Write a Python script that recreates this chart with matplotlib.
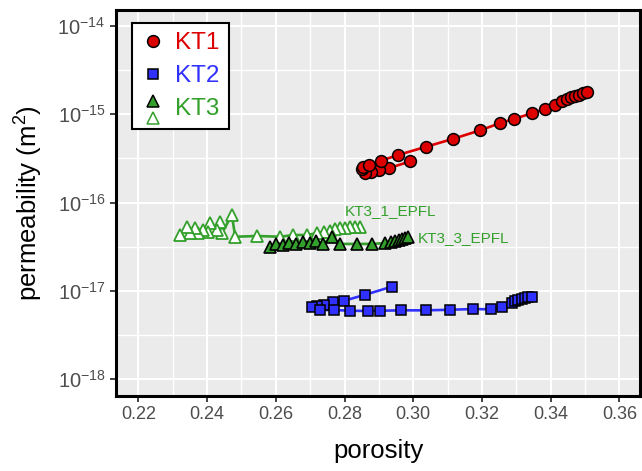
import matplotlib
matplotlib.use("Agg")
import matplotlib.pyplot as plt
from matplotlib.lines import Line2D
from matplotlib.legend_handler import HandlerBase
from matplotlib.ticker import FixedLocator, NullFormatter

plt.rcParams["font.family"] = ["Liberation Sans", "DejaVu Sans"]
plt.rcParams["mathtext.default"] = "regular"

# Data
kt1_porosity = [0.2991, 0.2928, 0.2899, 0.2877, 0.2860, 0.2850, 0.2855, 0.2870, 0.2906,
                0.2955, 0.3038, 0.3117, 0.3195, 0.3251, 0.3292, 0.3345, 0.3384, 0.3413,
                0.3434, 0.3447, 0.3459, 0.3470, 0.3482, 0.3494, 0.3505]
kt1_perm = [2.92e-16, 2.44e-16, 2.31e-16, 2.21e-16, 2.17e-16, 2.37e-16, 2.51e-16, 2.65e-16,
            2.97e-16, 3.44e-16, 4.28e-16, 5.27e-16, 6.56e-16, 7.87e-16, 8.81e-16, 1.02e-15,
            1.15e-15, 1.27e-15, 1.41e-15, 1.48e-15, 1.55e-15, 1.60e-15, 1.66e-15, 1.72e-15,
            1.77e-15]

kt2_porosity = [0.2939, 0.2860, 0.2799, 0.2765, 0.2741, 0.2719, 0.2705, 0.2729, 0.2770,
                0.2816, 0.2867, 0.2904, 0.2964, 0.3037, 0.3107, 0.3175, 0.3226, 0.3258,
                0.3287, 0.3297, 0.3306, 0.3316, 0.3326, 0.3335, 0.3345]
kt2_perm = [1.12e-17, 9.06e-18, 7.74e-18, 7.43e-18, 6.98e-18, 6.75e-18, 6.52e-18, 6.08e-18,
            6.08e-18, 5.97e-18, 5.93e-18, 5.97e-18, 6.03e-18, 6.03e-18, 6.12e-18, 6.24e-18,
            6.19e-18, 6.52e-18, 7.36e-18, 7.74e-18, 7.94e-18, 8.17e-18, 8.32e-18, 8.47e-18,
            8.59e-18]

kt3_1_porosity = [0.2845, 0.2831, 0.2816, 0.2802, 0.2787, 0.2773, 0.2758, 0.2739, 0.2719,
                  0.2690, 0.2651, 0.2613, 0.2545, 0.2482, 0.2472, 0.2443, 0.2438, 0.2428,
                  0.2409, 0.2404, 0.2389, 0.2375, 0.2365, 0.2351, 0.2341, 0.2321]
kt3_1_perm = [5.32e-17, 5.32e-17, 5.24e-17, 5.14e-17, 5.11e-17, 4.98e-17, 4.80e-17, 4.68e-17,
              4.49e-17, 4.29e-17, 4.29e-17, 4.10e-17, 4.18e-17, 4.10e-17, 7.23e-17, 4.49e-17,
              6.07e-17, 4.89e-17, 5.82e-17, 4.68e-17, 4.89e-17, 4.49e-17, 5.11e-17, 4.49e-17,
              5.32e-17, 4.29e-17]

kt3_3_porosity = [0.2583, 0.2601, 0.2621, 0.2638, 0.2659, 0.2679, 0.2700, 0.2717, 0.2737,
                  0.2763, 0.2787, 0.2836, 0.2880, 0.2918, 0.2936, 0.2947, 0.2959, 0.2968,
                  0.2976, 0.2985]
kt3_3_perm = [3.14e-17, 3.40e-17, 3.31e-17, 3.48e-17, 3.40e-17, 3.58e-17, 3.48e-17, 3.67e-17,
              3.40e-17, 4.07e-17, 3.40e-17, 3.40e-17, 3.40e-17, 3.48e-17, 3.58e-17, 3.67e-17,
              3.77e-17, 3.86e-17, 3.97e-17, 4.07e-17]

x_ticks = [0.22, 0.24, 0.26, 0.28, 0.30, 0.32, 0.34, 0.36]
y_ticks = [1e-18, 1e-17, 1e-16, 1e-15, 1e-14]
y_tick_labels = [r"$10^{-18}$", r"$10^{-17}$", r"$10^{-16}$", r"$10^{-15}$", r"$10^{-14}$"]

red = "#dc0000"
blue = "#3030ff"
green = "#33a02c"


class StackedTriangles(HandlerBase):
    # filled triangle on top of an open one, like the KT3 legend key
    def create_artists(self, legend, orig_handle, xdescent, ydescent, width, height,
                       fontsize, trans):
        cx = width / 2 - xdescent
        top = Line2D([cx], [height * 0.85 - ydescent], marker="^", ms=8.5, ls="",
                     mfc=green, mec="black", mew=1.1)
        bottom = Line2D([cx], [height * -0.15 - ydescent], marker="^", ms=8.5, ls="",
                        mfc="white", mec=green, mew=1.1)
        top.set_transform(trans)
        bottom.set_transform(trans)
        return [top, bottom]


fig = plt.figure(figsize=(6.42, 4.71), dpi=100)
ax = fig.add_axes([0.1807, 0.1592, 0.8163, 0.8196])
ax.set_facecolor("#ebebeb")

ax.plot(kt1_porosity, kt1_perm, color=red, lw=1.9, marker="o", ms=8.5,
        mfc=red, mec="black", mew=1.1, zorder=4)
ax.plot(kt2_porosity, kt2_perm, color=blue, lw=1.9, marker="s", ms=7.3,
        mfc=blue, mec="black", mew=1.1, zorder=4)
ax.plot(kt3_1_porosity, kt3_1_perm, color=green, lw=1.9, marker="^", ms=9,
        mfc="white", mec=green, mew=1.3, zorder=3)
ax.plot(kt3_3_porosity, kt3_3_perm, color=green, lw=1.9, marker="^", ms=9,
        mfc=green, mec="black", mew=1.2, zorder=4)

ax.text(0.2802, 8.0e-17, "KT3_1_EPFL", color=green, fontsize=11, va="center", ha="left")
ax.text(0.3014, 3.94e-17, "KT3_3_EPFL", color=green, fontsize=11, va="center", ha="left")

ax.set_yscale("log")
ax.set_xlim(0.2135, 0.366)
ax.set_ylim(10 ** -18.189, 10 ** -13.822)

ax.xaxis.set_major_locator(FixedLocator(x_ticks))
ax.set_xticklabels([f"{t:.2f}" for t in x_ticks])
ax.xaxis.set_minor_locator(FixedLocator([0.23, 0.25, 0.27, 0.29, 0.31, 0.33, 0.35]))
ax.yaxis.set_major_locator(FixedLocator(y_ticks))
ax.set_yticklabels(y_tick_labels)
ax.yaxis.set_minor_locator(FixedLocator([10 ** -17.5, 10 ** -16.5, 10 ** -15.5, 10 ** -14.5]))
ax.yaxis.set_minor_formatter(NullFormatter())

ax.grid(which="major", color="white", lw=1.5)
ax.grid(which="minor", color="white", lw=1.0)
ax.set_axisbelow(True)
ax.tick_params(which="major", direction="out", length=4.5, width=1.3, color="#333333",
               labelcolor="#4d4d4d", labelsize=13, pad=3)
ax.tick_params(axis="y", which="major", labelsize=14.5)
ax.tick_params(which="minor", length=0)
for s in ax.spines.values():
    s.set_linewidth(2.2)
    s.set_color("black")

ax.set_xlabel("porosity", fontsize=18.5, labelpad=11)
ax.set_ylabel(r"permeability (m$^2$)", fontsize=18.5, labelpad=9)

handles = [
    Line2D([], [], ls="", marker="o", ms=8.5, mfc=red, mec="black", mew=1.1),
    Line2D([], [], ls="", marker="s", ms=7.3, mfc=blue, mec="black", mew=1.1),
    Line2D([], [], ls="", marker="^"),
]
leg = ax.legend(handles, ["KT1", "KT2", "KT3"], loc="upper left",
                bbox_to_anchor=(0.0305, 0.966), borderaxespad=0, fontsize=17.5,
                fancybox=False, framealpha=1, edgecolor="black", handlelength=1.0,
                handletextpad=0.4, labelspacing=0.45, borderpad=0.38,
                handler_map={handles[2]: StackedTriangles()})
leg.get_frame().set_linewidth(1.5)
for txt, c in zip(leg.get_texts(), [red, blue, green]):
    txt.set_color(c)

fig.savefig("out.png", dpi=100)
